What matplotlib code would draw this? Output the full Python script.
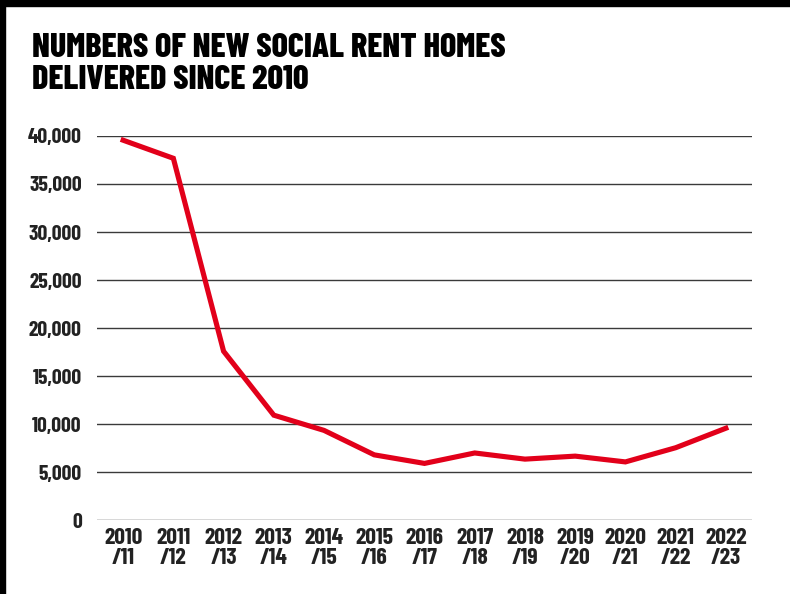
import matplotlib
matplotlib.use("Agg")
import matplotlib.pyplot as plt
from matplotlib.patches import Rectangle

categories = ["2010\n/11", "2011\n/12", "2012\n/13", "2013\n/14", "2014\n/15", "2015\n/16",
              "2016\n/17", "2017\n/18", "2018\n/19", "2019\n/20", "2020\n/21", "2021\n/22", "2022\n/23"]
homes = [39562, 37677, 17580, 10919, 9334, 6786, 5895, 6982, 6341, 6653, 6051, 7528, 9561]
yticks = [0, 5000, 10000, 15000, 20000, 25000, 30000, 35000, 40000]
ytick_labels = ["0", "5,000", "10,000", "15,000", "20,000", "25,000", "30,000", "35,000", "40,000"]
title = "NUMBERS OF NEW SOCIAL RENT HOMES\nDELIVERED SINCE 2010"

FONT = ["Barlow Condensed", "DejaVu Sans"]
plt.rcParams['font.family'] = FONT

W, H = 790, 594
fig = plt.figure(figsize=(W / 100, H / 100), dpi=100)
fig.patch.set_facecolor("white")

# black frame on top and left
fig.patches.append(Rectangle((0, 1 - 6 / H), 1, 6 / H, transform=fig.transFigure, color="black", zorder=10))
fig.patches.append(Rectangle((0, 0), 5 / W, 1, transform=fig.transFigure, color="black", zorder=10))

left, right, top, bottom = 97, 752, 136, 520
ax = fig.add_axes([left / W, (H - bottom) / H, (right - left) / W, (bottom - top) / H])

x = list(range(len(categories)))
ax.plot(x, homes, color="#e2001a", lw=3.7, solid_joinstyle="miter", zorder=3, clip_on=False)

ax.set_xlim(-0.52, len(categories) - 1 + 0.52)
ax.set_ylim(0, 40000)
ax.set_yticks(yticks)
ax.set_yticklabels(ytick_labels)
ax.set_xticks(x)
ax.set_xticklabels(categories, linespacing=1.0)

for s in ax.spines.values():
    s.set_visible(False)
ax.grid(axis="y", color="#3a3a3a", lw=1.0)
ax.tick_params(axis="both", length=0)
ax.tick_params(axis="y", pad=11, labelsize=15.5, labelcolor="#222222")
ax.tick_params(axis="x", pad=6, labelsize=17, labelcolor="#222222")
for lab in ax.get_yticklabels() + ax.get_xticklabels():
    lab.set_fontweight("bold")
ax.set_axisbelow(True)

fig.text(32 / W, 1 - 33 / H, title, ha="left", va="top", fontsize=24.5, fontweight="heavy",
         color="black", linespacing=1.07)

fig.savefig("out.png", dpi=100)
